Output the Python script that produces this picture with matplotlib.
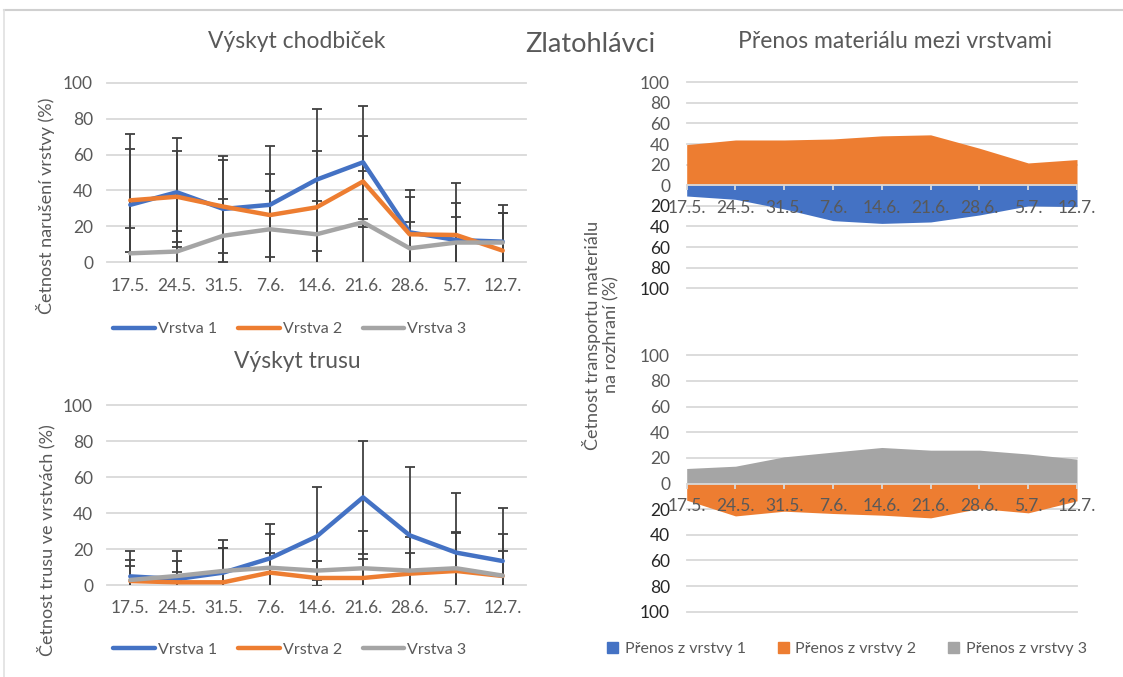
import numpy as np
import matplotlib
matplotlib.use('Agg')
import matplotlib.pyplot as plt
from matplotlib.patches import Patch
from matplotlib.lines import Line2D

plt.rcParams['font.family'] = ['Lato', 'DejaVu Sans']

# sampling dates
dates = ['17.5.', '24.5.', '31.5.', '7.6.', '14.6.', '21.6.', '28.6.', '5.7.', '12.7.']
layers = ['Vrstva 1', 'Vrstva 2', 'Vrstva 3']

# burrow occurrence (%) and error bars
chodb_v1 = [32, 39, 29.7, 32, 46, 55.7, 16.7, 12.4, 11.5]
chodb_v2 = [34.5, 36.5, 31, 26.3, 30.6, 45, 15.6, 15.2, 6.5]
chodb_v3 = [5, 6, 14.8, 18.4, 15.6, 22.3, 7.8, 11, 11]
chodb_e1 = [39.2, 30.4, 29.6, 33, 39.6, 31.5, 23.7, 20.7, 20.4]
chodb_e2 = [28.5, 25.4, 25.7, 23.1, 31.6, 25.4, 20.5, 29.1, 21]
chodb_e3 = [13.9, 11.6, 20.2, 21.4, 18.8, 28.3, 14.4, 14.4, 16.6]

# frass occurrence (%) and error bars
trus_v1 = [4.8, 3.3, 6.9, 14.8, 26.9, 48.7, 27.6, 18, 13.3]
trus_v2 = [2.2, 1.5, 1.5, 6.9, 3.9, 3.9, 6.3, 7.8, 5]
trus_v3 = [2.8, 5, 7.8, 9.6, 8, 9.3, 8, 9.3, 5.2]
trus_e1 = [14.1, 15.6, 18.1, 18.9, 27.4, 31.3, 38.1, 33.3, 29.7]
trus_e2 = [11.7, 11.8, 19.2, 10.7, 9.2, 10.7, 11.3, 21.2, 13.9]
trus_e3 = [7.8, 2, 12.9, 18.7, 5.1, 20.7, 18.9, 20.3, 22.9]

# material transfer between layers (%), upper pair: 2 up / 1 down, lower pair: 3 up / 2 down
prenos_top_z2 = [39.5, 44, 44, 45, 48, 49, 36, 21.7, 25]
prenos_top_z1 = [10.4, 13.6, 23, 34.3, 37, 35.6, 28.8, 20, 20.7]
prenos_bot_z3 = [11.7, 13.5, 20.8, 24.5, 28.1, 26, 26, 23, 19]
prenos_bot_z2 = [13, 25.3, 21.6, 23.4, 24.7, 26.8, 19.5, 22.9, 13.5]
prenos_names = ['Přenos z vrstvy 1', 'Přenos z vrstvy 2', 'Přenos z vrstvy 3']

BLUE, ORANGE, GRAY = '#4472C4', '#ED7D31', '#A5A5A5'
TXT = '#595959'
GRID = '#D9D9D9'
TICK_FS = 12.5

W, H = 1123, 677
fig = plt.figure(figsize=(W / 100, H / 100), dpi=100)


def fx(px):
    return px / W


def fy(py):
    return 1 - py / H


def box(x0, y0, x1, y1):
    return [fx(x0), fy(y1), fx(x1) - fx(x0), fy(y0) - fy(y1)]


def line_chart(ax, series, errors):
    x = np.arange(len(dates))
    for vals, errs in zip(series, errors):
        ax.errorbar(x, vals, yerr=errs, fmt='none', ecolor='#404040',
                    elinewidth=1.3, capsize=3.6, capthick=1.3, zorder=2)
    for vals, col in zip(series, [BLUE, ORANGE, GRAY]):
        ax.plot(x, vals, color=col, lw=3.2, solid_joinstyle='round',
                solid_capstyle='round', zorder=3)
    ax.set_xlim(-0.5, len(dates) - 0.5)
    ax.set_ylim(0, 100)
    ax.set_yticks(range(0, 101, 20))
    ax.set_xticks(x, dates)
    ax.yaxis.grid(True, color=GRID, lw=1.3)
    for gl in ax.get_ygridlines():
        gl.set_clip_on(False)
    ax.set_axisbelow(True)
    ax.tick_params(length=0, labelcolor=TXT, labelsize=TICK_FS)
    ax.tick_params(axis='y', pad=10)
    ax.tick_params(axis='x', pad=11)
    for s in ax.spines.values():
        s.set_visible(False)


def area_chart(ax, up_vals, up_col, down_vals, down_col):
    x = np.arange(len(dates))
    ax.fill_between(x, 0, up_vals, color=up_col, lw=0, zorder=2)
    ax.fill_between(x, 0, -np.array(down_vals), color=down_col, lw=0, zorder=2)
    ax.set_xlim(0, len(dates) - 1)
    ax.set_ylim(-100, 100)
    yt = list(range(-100, 101, 20))
    ax.set_yticks(yt, [str(abs(v)) for v in yt])
    ax.set_xticks(x, dates)
    ax.yaxis.grid(True, color=GRID, lw=1.3)
    for gl in ax.get_ygridlines():
        gl.set_clip_on(False)
    ax.set_axisbelow(True)
    # date labels sit on top of the filled areas
    ax.xaxis.set_zorder(5)
    for name in ['top', 'left', 'right']:
        ax.spines[name].set_visible(False)
    ax.spines['bottom'].set_position(('data', 0))
    ax.spines['bottom'].set_color(GRID)
    ax.spines['bottom'].set_linewidth(1.3)
    ax.spines['bottom'].set_zorder(4)
    ax.tick_params(axis='y', length=0, labelsize=TICK_FS, pad=12)
    ax.tick_params(axis='x', length=3.6, color=GRID, width=1.3,
                   labelcolor=TXT, labelsize=TICK_FS, pad=7)
    # negative side labels are darker
    for v, lab in zip(yt, ax.get_yticklabels()):
        lab.set_color('#262626' if v < 0 else TXT)


ax_ch = fig.add_axes(box(107, 82.7, 526, 262.3))
line_chart(ax_ch, [chodb_v1, chodb_v2, chodb_v3], [chodb_e1, chodb_e2, chodb_e3])

ax_tr = fig.add_axes(box(107, 405, 526, 585))
line_chart(ax_tr, [trus_v1, trus_v2, trus_v3], [trus_e1, trus_e2, trus_e3])

ax_p1 = fig.add_axes(box(686.7, 82.3, 1077, 288.3))
area_chart(ax_p1, prenos_top_z2, ORANGE, prenos_top_z1, BLUE)

ax_p2 = fig.add_axes(box(686.7, 355.3, 1077, 611.7))
area_chart(ax_p2, prenos_bot_z3, GRAY, prenos_bot_z2, ORANGE)

# titles and axis labels
fig.text(fx(297), fy(42), 'Výskyt chodbiček', ha='center', va='center', fontsize=16.5, color=TXT)
fig.text(fx(297), fy(362), 'Výskyt trusu', ha='center', va='center', fontsize=16.5, color=TXT)
fig.text(fx(590), fy(45), 'Zlatohlávci', ha='center', va='center', fontsize=19.5, color=TXT)
fig.text(fx(895), fy(42), 'Přenos materiálu mezi vrstvami', ha='center', va='center',
         fontsize=16.5, color=TXT)
fig.text(fx(46), fy(206), 'Četnost narušení vrstvy (%)', rotation=90, ha='center',
         va='center', fontsize=13, color=TXT)
fig.text(fx(46), fy(540), 'Četnost trusu ve vrstvách (%)', rotation=90, ha='center',
         va='center', fontsize=13, color=TXT)
fig.text(fx(601), fy(335), 'Četnost transportu materiálu\nna rozhraní (%)', rotation=90,
         ha='center', va='center', multialignment='center', fontsize=13, color=TXT,
         linespacing=1.2)

# legends
line_handles = [Line2D([], [], color=c, lw=3.2, solid_capstyle='round') for c in [BLUE, ORANGE, GRAY]]
for ypos in (329, 650):
    fig.legend(line_handles, layers, loc='center', bbox_to_anchor=(fx(290), fy(ypos)),
               ncol=3, frameon=False, fontsize=11.5, handlelength=2.6, handletextpad=0.2,
               columnspacing=1.3, labelcolor=TXT)

patch_handles = [Patch(color=c) for c in [BLUE, ORANGE, GRAY]]
fig.legend(patch_handles, prenos_names, loc='center', bbox_to_anchor=(fx(847), fy(649)),
           ncol=3, frameon=False, fontsize=11.5, handlelength=0.7, handleheight=0.7,
           handletextpad=0.4, columnspacing=2.0, labelcolor=TXT)

# outer frame
fig.add_artist(Line2D([fx(4), 1], [fy(10), fy(10)], transform=fig.transFigure,
                      color='#D0D0D0', lw=1.5))
fig.add_artist(Line2D([fx(4), fx(4)], [fy(10), 0], transform=fig.transFigure,
                      color='#E0E0E0', lw=1.2))

fig.savefig('out.png', dpi=100)
